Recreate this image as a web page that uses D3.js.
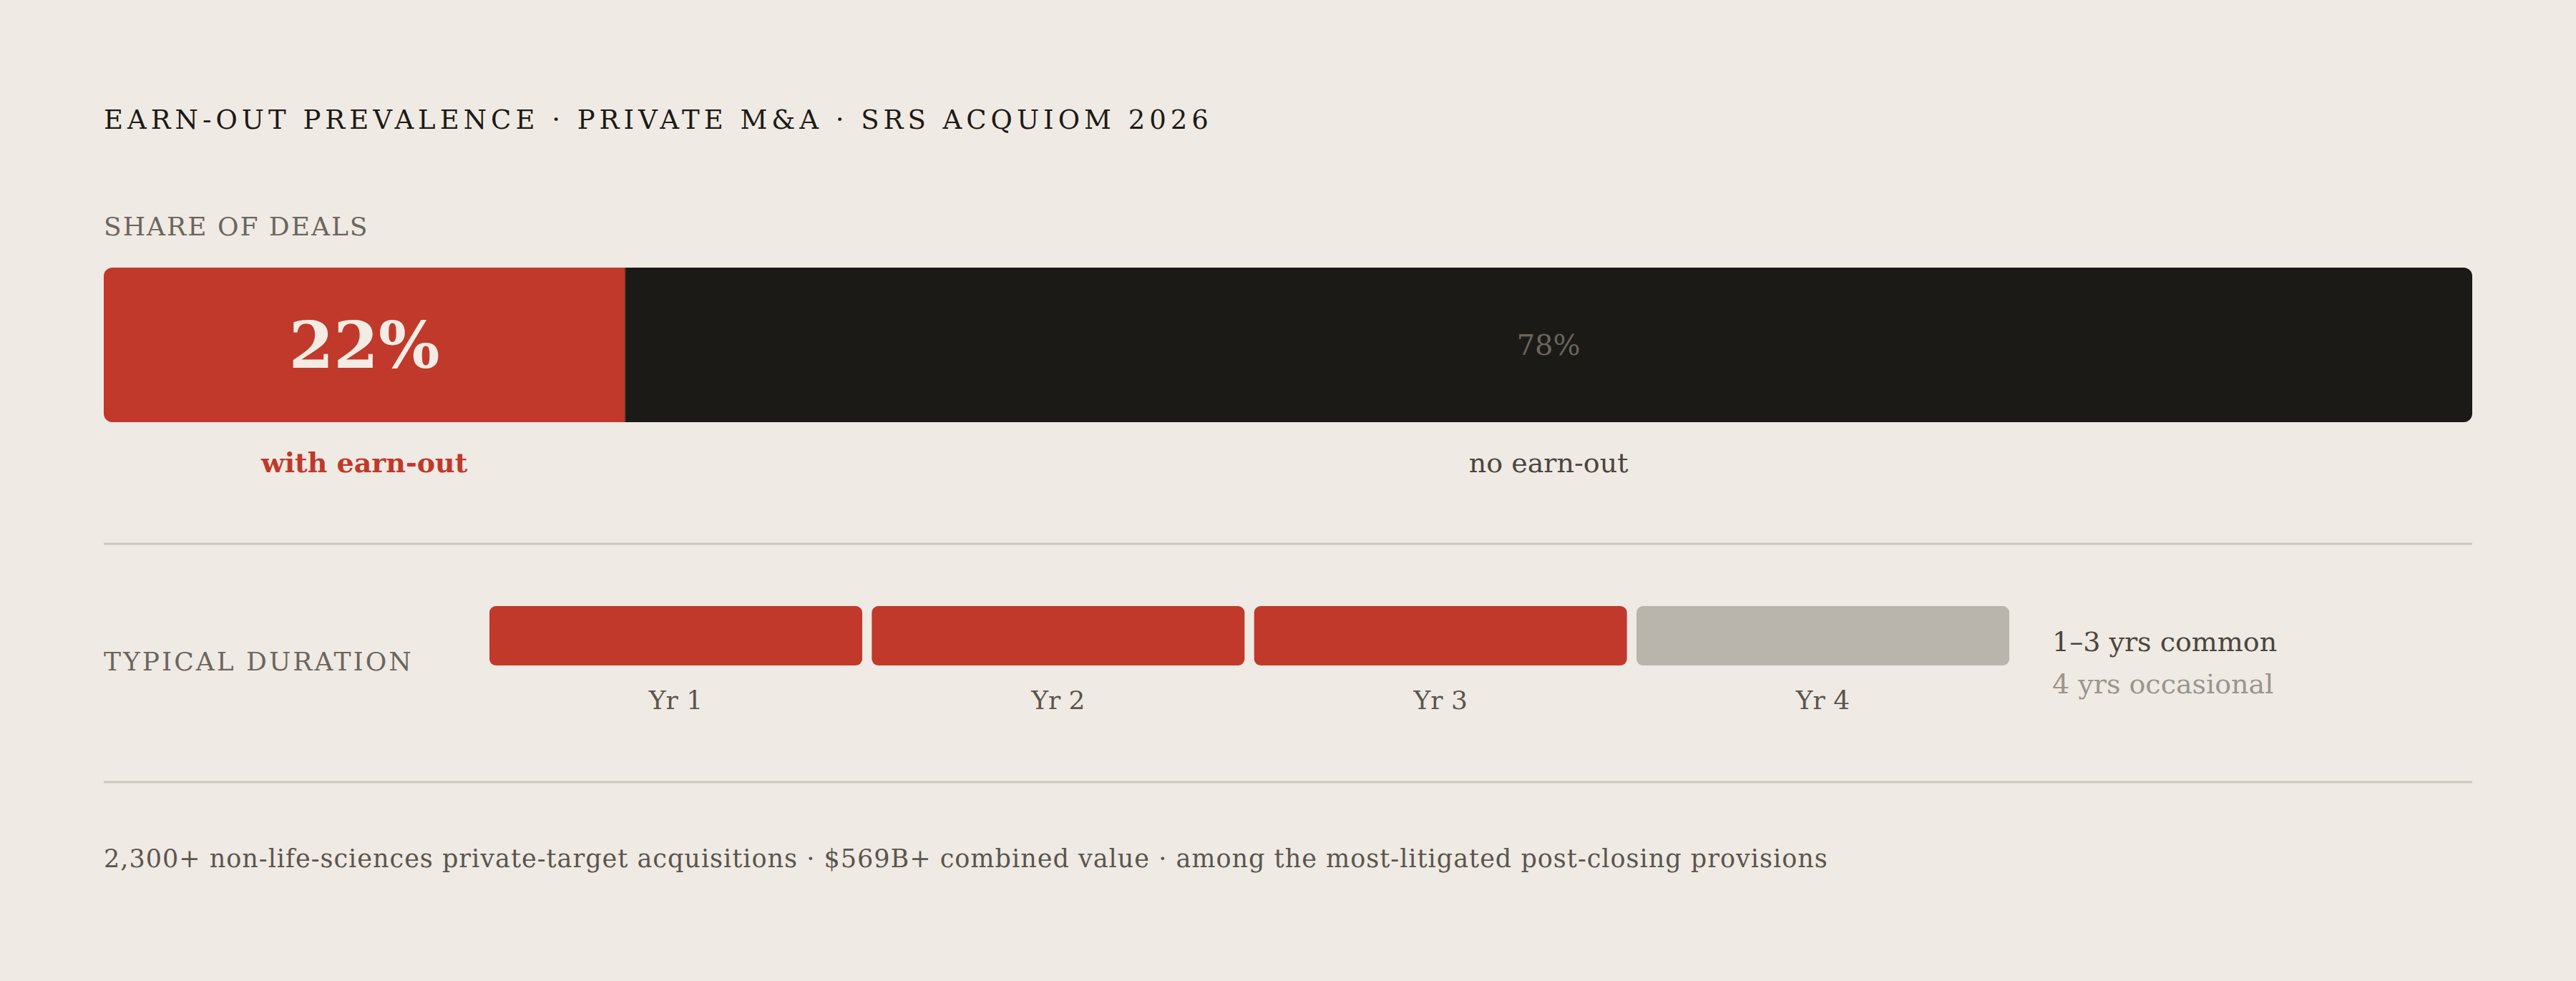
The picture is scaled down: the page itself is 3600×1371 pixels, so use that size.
<!DOCTYPE html>
<html><head><meta charset="utf-8">
<script src="https://cdn.jsdelivr.net/npm/d3@7"></script>
<style>
body{margin:0;background:#efeae3;}
svg{display:block;font-family:"DejaVu Serif","Liberation Serif",serif;}
</style></head>
<body><svg id="chart" width="3600" height="1371"></svg>
<script>
// data
var shareLabels = ["with earn-out", "no earn-out"];
var shareValues = [22, 78];
var durationYears = ["Yr 1", "Yr 2", "Yr 3", "Yr 4"];
var durationCommon = [true, true, true, false];

var red = "#c0392b", dark = "#1c1a16", gray = "#b9b5ad";
var svg = d3.select("#chart");
var left = 145, right = 3455;

svg.append("text").attr("x", left).attr("y", 180)
  .attr("font-size", 37).attr("letter-spacing", 6).attr("fill", "#1c1a16")
  .text("EARN-OUT PREVALENCE · PRIVATE M&A · SRS ACQUIOM 2026");

svg.append("text").attr("x", left).attr("y", 329)
  .attr("font-size", 36).attr("letter-spacing", 2).attr("fill", "#6b665e")
  .text("SHARE OF DEALS");

// share bar
var x = d3.scaleLinear().domain([0, d3.sum(shareValues)]).range([left, right]);
var stack = [];
var acc = 0;
shareValues.forEach(function(v, i){ stack.push({v: v, x0: acc, x1: acc + v, label: shareLabels[i], i: i}); acc += v; });

var by = 374, bh = 216;
svg.append("clipPath").attr("id", "rc").append("rect")
  .attr("x", left).attr("y", by).attr("width", right - left).attr("height", bh).attr("rx", 12);
var g = svg.append("g").attr("clip-path", "url(#rc)");
g.selectAll("rect").data(stack).enter().append("rect")
  .attr("x", function(d){ return x(d.x0); })
  .attr("width", function(d){ return x(d.x1) - x(d.x0); })
  .attr("y", by).attr("height", bh)
  .attr("fill", function(d){ return d.i === 0 ? red : dark; });
g.append("line").attr("x1", x(stack[1].x0)).attr("x2", x(stack[1].x0))
  .attr("y1", by).attr("y2", by + bh).attr("stroke", "#8a3a30").attr("stroke-width", 2);

svg.selectAll(".pct").data(stack).enter().append("text")
  .attr("x", function(d){ return (x(d.x0) + x(d.x1)) / 2; })
  .attr("y", function(d){ return d.i === 0 ? by + bh/2 + 32 : by + bh/2 + 14; })
  .attr("text-anchor", "middle")
  .attr("font-size", function(d){ return d.i === 0 ? 90 : 40; })
  .attr("font-weight", function(d){ return d.i === 0 ? "bold" : "normal"; })
  .attr("fill", function(d){ return d.i === 0 ? "#f4ece4" : "#6a655d"; })
  .text(function(d){ return d.v + "%"; });

svg.selectAll(".lbl").data(stack).enter().append("text")
  .attr("x", function(d){ return (x(d.x0) + x(d.x1)) / 2; })
  .attr("y", 660).attr("text-anchor", "middle").attr("font-size", 38)
  .attr("font-weight", function(d){ return d.i === 0 ? "bold" : "normal"; })
  .attr("fill", function(d){ return d.i === 0 ? red : "#4a463f"; })
  .text(function(d){ return d.label; });

[760, 1093].forEach(function(y){
  svg.append("line").attr("x1", left).attr("x2", right).attr("y1", y).attr("y2", y)
    .attr("stroke", "#cdc7be").attr("stroke-width", 3);
});

// duration
svg.append("text").attr("x", left).attr("y", 937)
  .attr("font-size", 36).attr("letter-spacing", 3).attr("fill", "#6b665e")
  .text("TYPICAL DURATION");

var xb = d3.scaleBand().domain(durationYears).range([684, 2808]).paddingInner(0.025).paddingOuter(0);
svg.selectAll(".dur").data(durationYears).enter().append("rect")
  .attr("x", function(d){ return xb(d); }).attr("width", xb.bandwidth())
  .attr("y", 847).attr("height", 83).attr("rx", 9)
  .attr("fill", function(d, i){ return durationCommon[i] ? red : gray; });
svg.selectAll(".yr").data(durationYears).enter().append("text")
  .attr("x", function(d){ return xb(d) + xb.bandwidth()/2; }).attr("y", 991)
  .attr("text-anchor", "middle").attr("font-size", 36).attr("fill", "#5a554e")
  .text(function(d){ return d; });

svg.append("text").attr("x", 2868).attr("y", 910).attr("font-size", 38).attr("fill", "#4a463f").text("1–3 yrs common");
svg.append("text").attr("x", 2868).attr("y", 969).attr("font-size", 38).attr("fill", "#9a958d").text("4 yrs occasional");

svg.append("text").attr("x", left).attr("y", 1212).attr("font-size", 35).attr("letter-spacing", 1).attr("fill", "#5a554e")
  .text("2,300+ non-life-sciences private-target acquisitions · $569B+ combined value · among the most-litigated post-closing provisions");
</script></body></html>
